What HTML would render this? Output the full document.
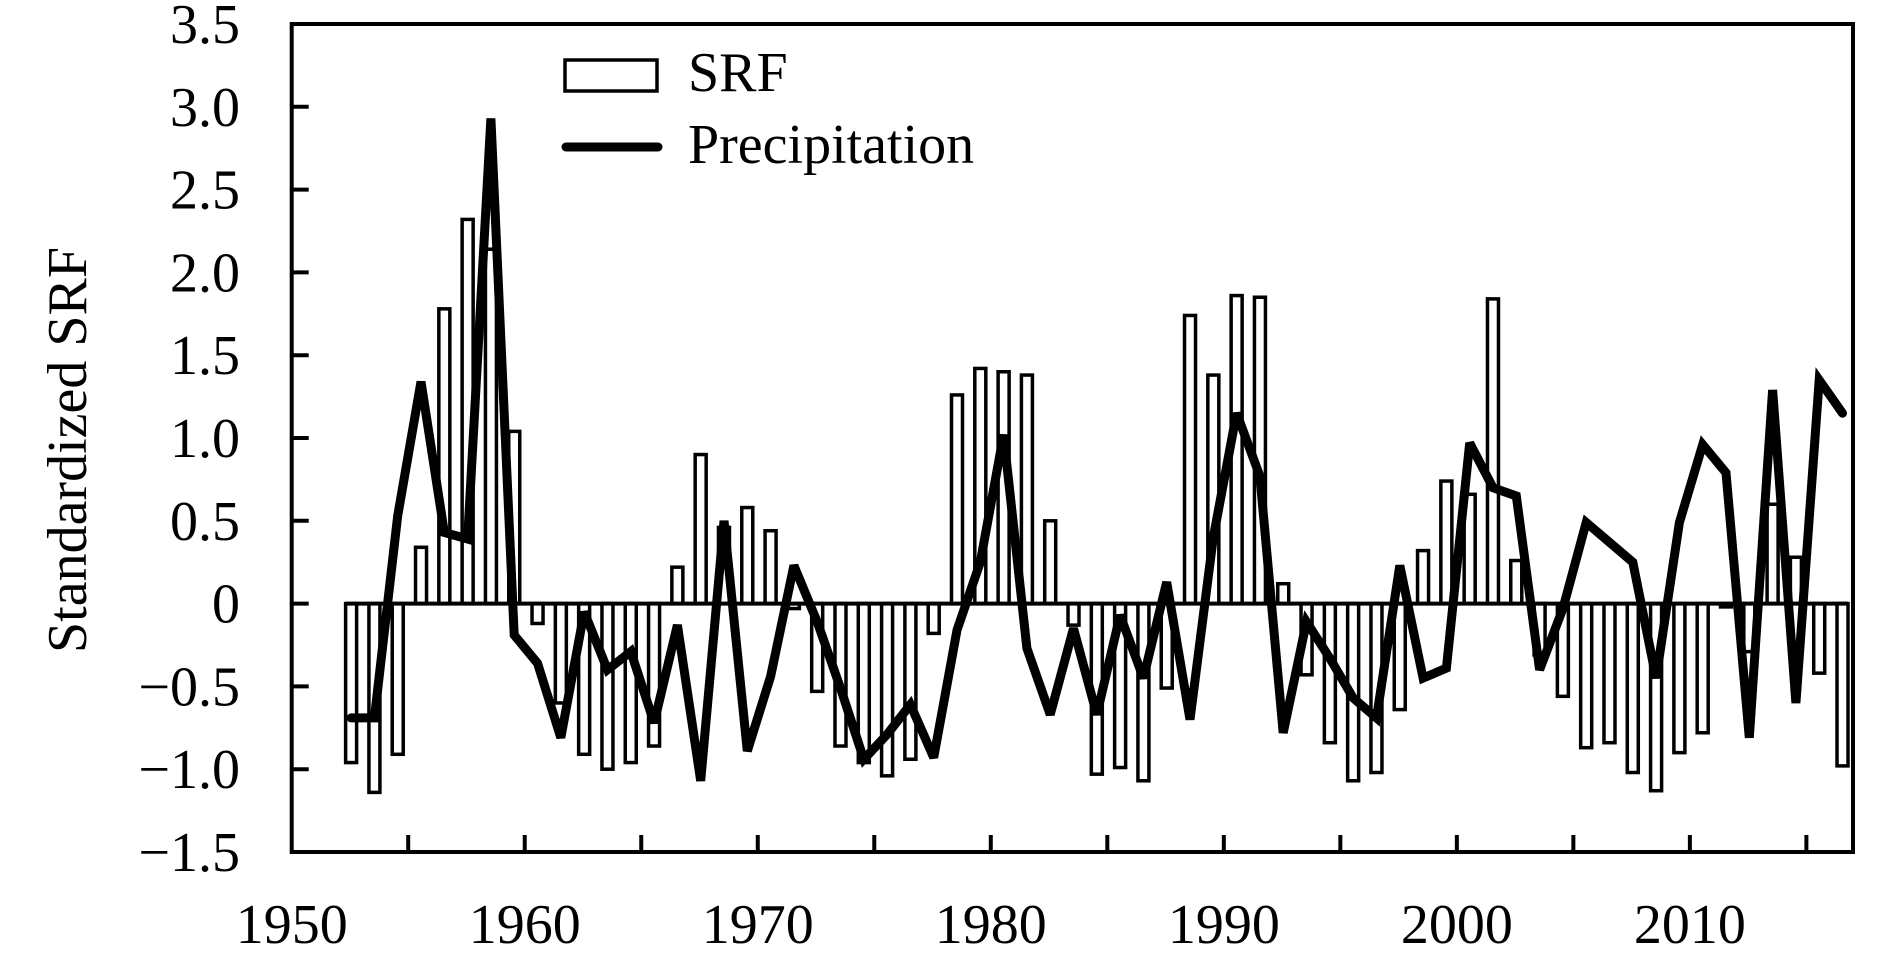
<!DOCTYPE html>
<html><head><meta charset="utf-8"><style>
html,body{margin:0;padding:0;background:#fff;}
svg{display:block;font-family:"Liberation Serif","Times New Roman",serif;}
</style></head><body>
<svg id="chart" width="1890" height="969" viewBox="0 0 1890 969" xmlns="http://www.w3.org/2000/svg">
<g id="bars"></g>
<g id="line"></g>
<g id="axes"></g>
<g>
  <rect x="565" y="60" width="92" height="31" fill="#fff" stroke="#000" stroke-width="3.5"/>
  <text x="688" y="91" font-size="56">SRF</text>
  <line x1="566" y1="147" x2="658" y2="147" stroke="#000" stroke-width="9" stroke-linecap="round"/>
  <text x="688" y="163" font-size="56">Precipitation</text>
</g>
<text transform="translate(86,450) rotate(-90)" text-anchor="middle" font-size="56">Standardized SRF</text>
</svg>
<script>
const years = [];
for (let y = 1952; y <= 2016; y++) years.push(y);
const srfValues = [-0.96,-1.14,-0.91,0.34,1.78,2.32,2.14,1.04,-0.12,-0.6,-0.91,-1.0,-0.96,-0.86,0.22,0.9,0.46,0.58,0.44,-0.03,-0.53,-0.86,-0.96,-1.04,-0.94,-0.18,1.26,1.42,1.40,1.38,0.5,-0.13,-1.03,-0.99,-1.07,-0.51,1.74,1.38,1.86,1.85,0.12,-0.43,-0.84,-1.07,-1.02,-0.64,0.32,0.74,0.66,1.84,0.26,-0.31,-0.56,-0.87,-0.84,-1.02,-1.13,-0.9,-0.78,-0.02,-0.29,0.6,0.28,-0.42,-0.98];
const precipValues = [-0.69,-0.69,0.53,1.34,0.43,0.39,2.93,-0.19,-0.36,-0.81,-0.05,-0.4,-0.29,-0.72,-0.13,-1.07,0.5,-0.89,-0.44,0.23,-0.11,-0.51,-0.94,-0.79,-0.61,-0.93,-0.16,0.25,1.02,-0.27,-0.67,-0.15,-0.67,-0.07,-0.45,0.13,-0.7,0.4,1.15,0.77,-0.78,-0.11,-0.33,-0.57,-0.69,0.23,-0.45,-0.39,0.97,0.70,0.65,-0.4,-0.03,0.49,0.37,0.25,-0.45,0.49,0.96,0.79,-0.81,1.29,-0.6,1.35,1.15];
const yTicks = [3.5,3.0,2.5,2.0,1.5,1.0,0.5,0,-0.5,-1.0,-1.5];
const yTickLabels = ["3.5","3.0","2.5","2.0","1.5","1.0","0.5","0","\u22120.5","\u22121.0","\u22121.5"];
const xTicks = [1950,1955,1960,1965,1970,1975,1980,1985,1990,1995,2000,2005,2010,2015];
const xLabels = [1950,1960,1970,1980,1990,2000,2010];

const NS = "http://www.w3.org/2000/svg";
const X0 = 291.7, X1 = 1853, XMIN = 1950, XMAX = 2017;
const Y0 = 852, Y1 = 24, YMIN = -1.5, YMAX = 3.5;
const xs = v => X0 + (v - XMIN) * (X1 - X0) / (XMAX - XMIN);
const ys = v => Y0 - (v - YMIN) * (Y0 - Y1) / (YMAX - YMIN);
function mk(tag, attrs, parent){ const e=document.createElementNS(NS,tag); for(const k in attrs) e.setAttribute(k,attrs[k]); parent.appendChild(e); return e; }

const barsG = document.getElementById('bars');
const BW = 11;
years.forEach((yr,i)=>{
  const v = srfValues[i];
  const cx = xs(yr + 0.55);
  const top = Math.min(ys(v), ys(0)), h = Math.abs(ys(v) - ys(0));
  const r = mk('rect',{x:cx-BW/2,y:top,width:BW,height:Math.max(h,1),fill:'#fff',stroke:'#000','stroke-width':3.5},barsG);
  
  
});
const zl = mk('line',{x1:xs(years[0]+0.55)-BW/2,x2:xs(years[years.length-1]+0.55)+BW/2,y1:ys(0),y2:ys(0),stroke:'#000','stroke-width':4},barsG);



const lineG = document.getElementById('line');
const pts = years.map((yr,i)=> xs(yr+0.55).toFixed(1)+','+ys(precipValues[i]).toFixed(1)).join(' ');
const pl = mk('polyline',{points:pts,fill:'none',stroke:'#000','stroke-width':9,'stroke-linejoin':'miter','stroke-miterlimit':3,'stroke-linecap':'round'},lineG);



const ax = document.getElementById('axes');
const frame = mk('rect',{x:X0,y:Y1,width:X1-X0,height:Y0-Y1,fill:'none',stroke:'#000','stroke-width':4},ax);


yTicks.forEach((v,i)=>{
  if (v!==YMAX && v!==YMIN){
    const t = mk('line',{x1:X0,x2:X0+17,y1:ys(v),y2:ys(v),stroke:'#000','stroke-width':4},ax);
    
    
  }
  const tx = mk('text',{x:240,y:ys(v)+19,'text-anchor':'end','font-size':56},ax);
  tx.textContent = yTickLabels[i];
  
  
});
xTicks.forEach(v=>{
  if (v===XMIN) return;
  const t = mk('line',{x1:xs(v),x2:xs(v),y1:Y0,y2:Y0-17,stroke:'#000','stroke-width':4},ax);
  
  
});
xLabels.forEach(v=>{
  const tx = mk('text',{x:xs(v),y:943,'text-anchor':'middle','font-size':56},ax);
  tx.textContent = String(v);
  
  
});
</script>
</body></html>
